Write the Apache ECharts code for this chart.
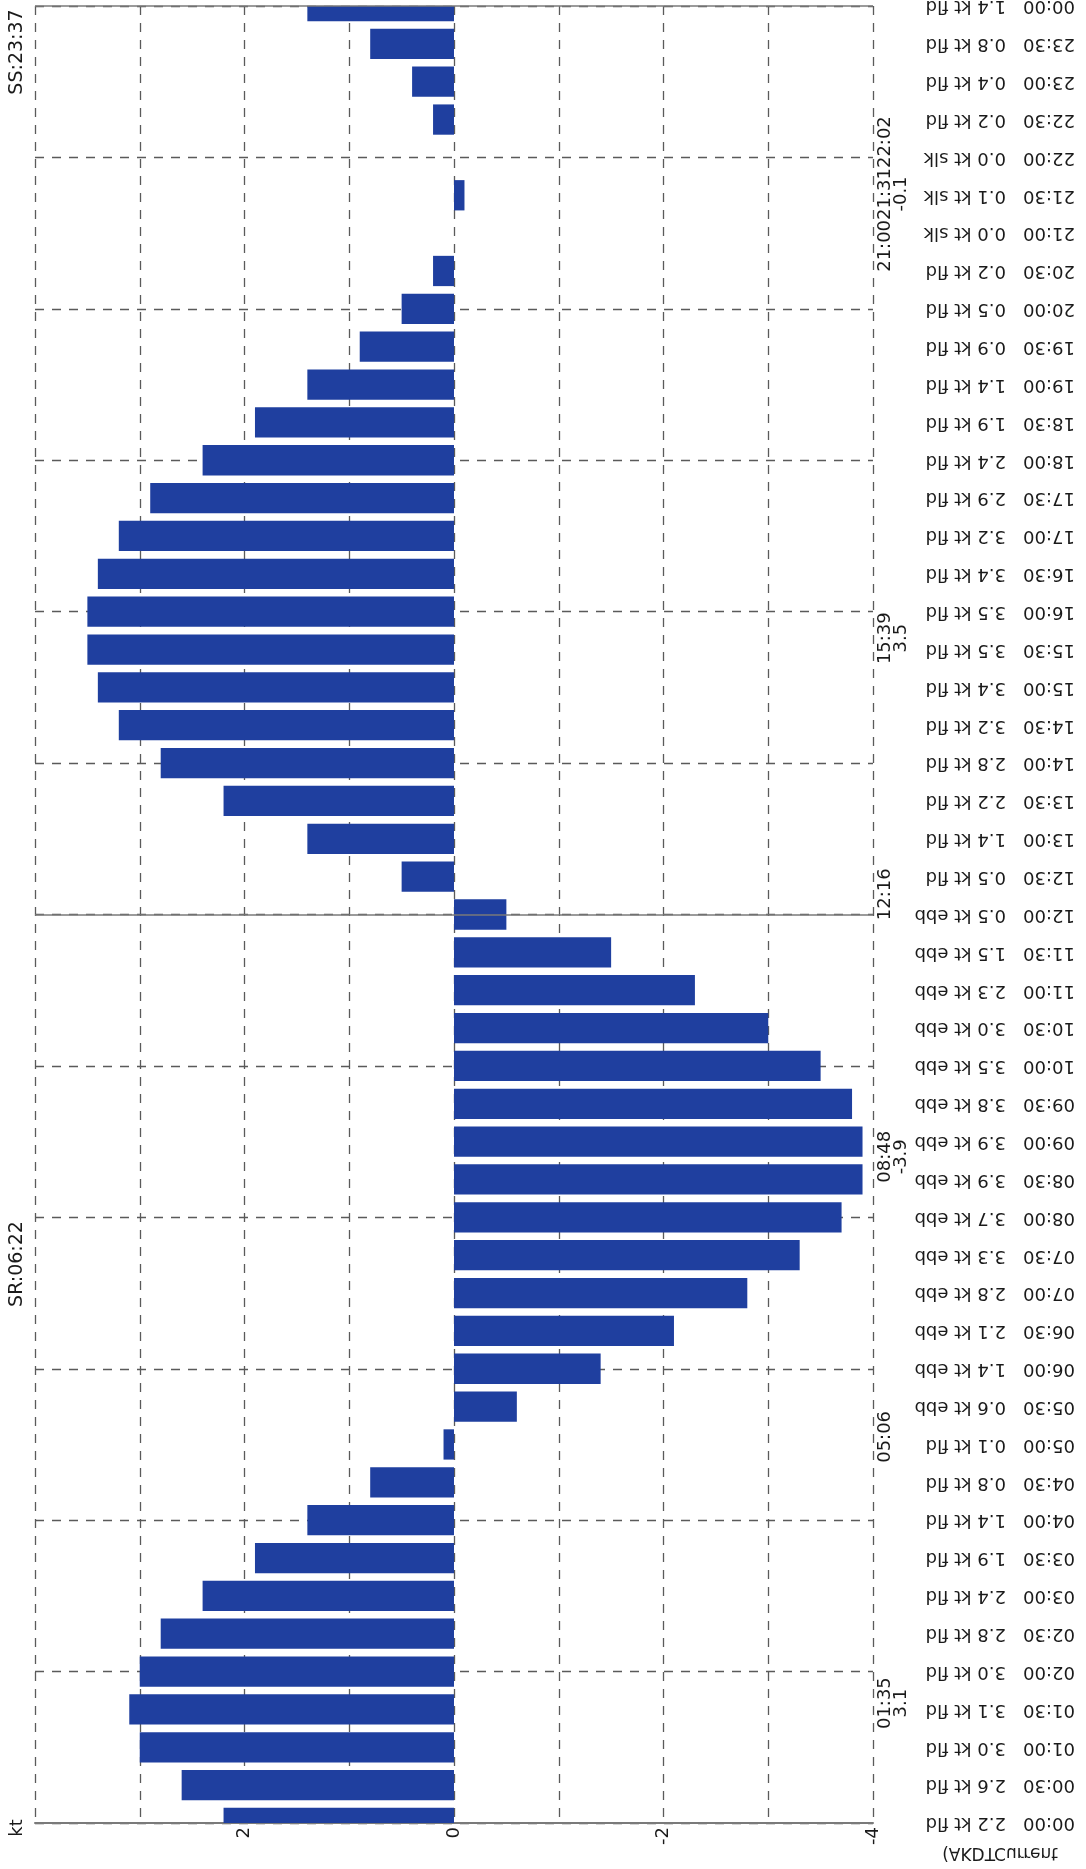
<!DOCTYPE html>
<html>
<head>
<meta charset="utf-8">
<script src="https://cdn.jsdelivr.net/npm/echarts@6/dist/echarts.min.js"></script>
<style>
  html, body { margin: 0; padding: 0; background: #ffffff; }
  #chart { width: 1086px; height: 1869px; }
</style>
</head>
<body>
<div id="chart"></div>
<script>
// Half-hourly tidal current, one day (flood positive, ebb negative)
const times = [
  '00:00','00:30','01:00','01:30','02:00','02:30','03:00','03:30','04:00','04:30',
  '05:00','05:30','06:00','06:30','07:00','07:30','08:00','08:30','09:00','09:30',
  '10:00','10:30','11:00','11:30','12:00','12:30','13:00','13:30','14:00','14:30',
  '15:00','15:30','16:00','16:30','17:00','17:30','18:00','18:30','19:00','19:30',
  '20:00','20:30','21:00','21:30','22:00','22:30','23:00','23:30','00:00'
];
const current = [
  2.2, 2.6, 3.0, 3.1, 3.0, 2.8, 2.4, 1.9, 1.4, 0.8,
  0.1, -0.6, -1.4, -2.1, -2.8, -3.3, -3.7, -3.9, -3.9, -3.8,
  -3.5, -3.0, -2.3, -1.5, -0.5, 0.5, 1.4, 2.2, 2.8, 3.2,
  3.4, 3.5, 3.5, 3.4, 3.2, 2.9, 2.4, 1.9, 1.4, 0.9,
  0.5, 0.2, 0.0, -0.1, 0.0, 0.2, 0.4, 0.8, 1.4
];
const state = [
  'fld','fld','fld','fld','fld','fld','fld','fld','fld','fld',
  'fld','ebb','ebb','ebb','ebb','ebb','ebb','ebb','ebb','ebb',
  'ebb','ebb','ebb','ebb','ebb','fld','fld','fld','fld','fld',
  'fld','fld','fld','fld','fld','fld','fld','fld','fld','fld',
  'fld','fld','slk','slk','slk','fld','fld','fld','fld'
];
// Max flood / max ebb / slack events
const eventTimes = ['01:35', '05:06', '08:48', '12:16', '15:39', '21:31'];
const eventLabels = ['01:35\n3.1', '05:06', '08:48\n-3.9', '12:16', '15:39\n3.5', '21:0021:3122:02\n-0.1'];
const speedTicks = [-4, -2, 0, 2];
const unitLabel = 'kt';
const sunLabels = ['SR:06:22', 'SS:23:37'];
const tableTitle = '(AKDTCurrent';

const toHours = t => { const p = t.split(':'); return +p[0] + (+p[1]) / 60; };
const eventHours = eventTimes.map(toHours);

const FONT = '"DejaVu Sans", sans-serif';
const INK = '#1a1a1a';
const GRIDC = '#5a5a5a';
const BAR = '#1f3f9f';

const chart = echarts.init(document.getElementById('chart'), null, { renderer: 'canvas' });

// Horizontal bars, clipped to the plot so the first and last half-hours show as half bars
function renderBar(params, api) {
  const idx = api.value(0);
  const v = api.value(1);
  const base = api.coord([0, idx]);
  const tip = api.coord([v, idx]);
  const h = api.size([0, 1])[1] * 0.8;
  const cs = params.coordSys;
  const rect = echarts.graphic.clipRectByRect(
    { x: Math.min(base[0], tip[0]), y: base[1] - h / 2, width: Math.abs(tip[0] - base[0]), height: h },
    { x: cs.x, y: cs.y, width: cs.width, height: cs.height }
  );
  return rect && { type: 'rect', shape: rect, style: { fill: BAR } };
}

chart.setOption({
  animation: false,
  backgroundColor: '#ffffff',
  grid: { left: 35, right: 213, top: 6, bottom: 46, containLabel: false, outerBoundsMode: 'none' },
  xAxis: {
    type: 'value', min: -4, max: 4, interval: 1, inverse: true, position: 'bottom',
    axisLine: { show: true, onZero: false, lineStyle: { color: '#7a7a7a', width: 2 } },
    axisTick: { show: false },
    splitLine: { show: true, lineStyle: { color: GRIDC, width: 1.3, type: [9, 8] } },
    axisLabel: {
      customValues: speedTicks, showMinLabel: true, showMaxLabel: true,
      rotate: 90, margin: 4, fontFamily: FONT, fontSize: 18, color: INK,
      formatter: v => String(v)
    }
  },
  yAxis: [
    {
      type: 'category', data: times, position: 'right', boundaryGap: false,
      axisLine: { show: false, onZero: false }, axisTick: { show: false },
      splitLine: { show: true, interval: 3, lineStyle: { color: GRIDC, width: 1.3, type: [9, 8] } },
      axisLabel: {
        interval: 0, rotate: 180, align: 'left', margin: 202,
        fontFamily: FONT, fontSize: 18, color: INK,
        formatter: (v, i) => times[i] + '   ' + Math.abs(current[i]).toFixed(1) + ' kt ' + state[i]
      }
    },
    {
      type: 'value', position: 'right', min: 0, max: 24,
      axisLine: { show: false, onZero: false }, axisTick: { show: false }, splitLine: { show: false },
      axisLabel: {
        customValues: eventHours, rotate: 90, margin: 4,
        fontFamily: FONT, fontSize: 18, lineHeight: 16, color: INK,
        formatter: v => {
          for (let i = 0; i < eventHours.length; i++) {
            if (Math.abs(eventHours[i] - v) < 1e-6) return eventLabels[i];
          }
          return '';
        }
      }
    }
  ],
  series: [{
    type: 'custom', coordinateSystem: 'cartesian2d', xAxisIndex: 0, yAxisIndex: 0,
    data: current.map((v, i) => [i, v]),
    encode: { x: 1, y: 0 },
    renderItem: renderBar,
    markLine: {
      silent: true, symbol: ['none', 'none'], label: { show: false },
      lineStyle: { color: '#7a7a7a', width: 1.5, type: 'solid' },
      data: [{ yAxis: 24 }, { yAxis: 48 }]
    }
  }],
  graphic: [
    { type: 'text', x: 17, y: 1828, rotation: Math.PI / 2,
      style: { text: unitLabel, font: '18px ' + FONT, fill: INK, align: 'center', verticalAlign: 'middle', textAlign: 'center', textVerticalAlign: 'middle' } },
    { type: 'text', x: 17, y: 1264, rotation: Math.PI / 2,
      style: { text: sunLabels[0], font: '19px ' + FONT, fill: INK, align: 'center', verticalAlign: 'middle', textAlign: 'center', textVerticalAlign: 'middle' } },
    { type: 'text', x: 17, y: 52, rotation: Math.PI / 2,
      style: { text: sunLabels[1], font: '19px ' + FONT, fill: INK, align: 'center', verticalAlign: 'middle', textAlign: 'center', textVerticalAlign: 'middle' } },
    { type: 'text', x: 1000, y: 1852, scaleY: -1,
      style: { text: tableTitle, font: '17px ' + FONT, fill: INK, align: 'center', verticalAlign: 'middle', textAlign: 'center', textVerticalAlign: 'middle' } }
  ]
});
</script>
</body>
</html>
